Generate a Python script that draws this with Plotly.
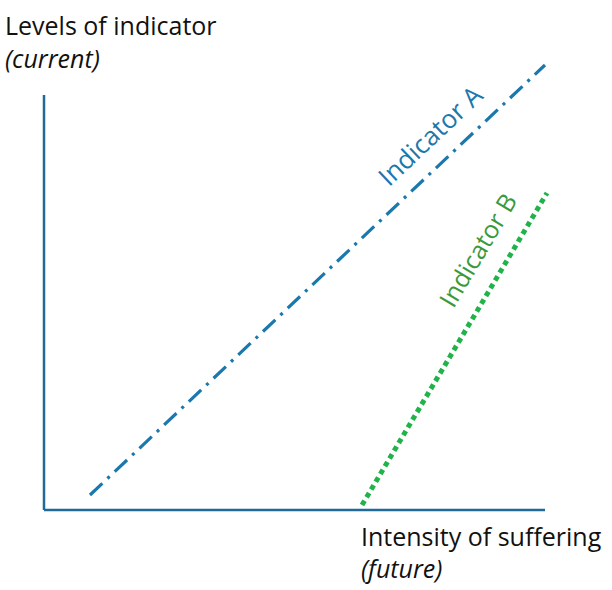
import plotly.graph_objects as go

# Chart coordinates: origin at the corner of the axes (units ~ pixels)
axis_x = [0, 501]
axis_y = [0, 415]
ind_a_x = [46, 501]
ind_a_y = [15, 445]
ind_b_x = [318, 503]
ind_b_y = [5, 317]

series_names = ["Indicator A", "Indicator B"]
y_title = ["Levels of indicator", "(current)"]
x_title = ["Intensity of suffering", "(future)"]

AX_COL = "#1f6a99"
A_COL = "#1a78ad"
B_COL = "#1fb34a"
B_TXT = "#3a9a3a"
FONT = "Open Sans"

fig = go.Figure()
# axes drawn as lines
fig.add_trace(go.Scatter(x=[axis_x[0], axis_x[0]], y=[axis_y[0], axis_y[1]], mode="lines",
                         line=dict(color=AX_COL, width=2.5), hoverinfo="skip", showlegend=False))
fig.add_trace(go.Scatter(x=[axis_x[0], axis_x[1]], y=[axis_y[0], axis_y[0]], mode="lines",
                         line=dict(color=AX_COL, width=2.5), hoverinfo="skip", showlegend=False))
fig.add_trace(go.Scatter(x=ind_a_x, y=ind_a_y, mode="lines", name=series_names[0],
                         line=dict(color=A_COL, width=3.2, dash="17px,7px,3px,7px"), showlegend=False))
fig.add_trace(go.Scatter(x=ind_b_x, y=ind_b_y, mode="lines", name=series_names[1],
                         line=dict(color=B_COL, width=5, dash="5px,4px"), showlegend=False))

fig.add_annotation(x=386, y=375, xref="x", yref="y", text=series_names[0], showarrow=False,
                   textangle=-43.4, font=dict(family=FONT, size=26, color=A_COL))
fig.add_annotation(x=433, y=260, xref="x", yref="y", text=series_names[1], showarrow=False,
                   textangle=-59.3, font=dict(family=FONT, size=25, color=B_TXT))

fig.add_annotation(x=3/612, y=1-25/590, xref="paper", yref="paper", text=y_title[0],
                   showarrow=False, xanchor="left", yanchor="middle",
                   font=dict(family=FONT, size=25, color="#111111"))
fig.add_annotation(x=3/612, y=1-58/590, xref="paper", yref="paper", text="<i>" + y_title[1] + "</i>",
                   showarrow=False, xanchor="left", yanchor="middle",
                   font=dict(family=FONT, size=25, color="#111111"))
fig.add_annotation(x=359/612, y=1-536/590, xref="paper", yref="paper", text=x_title[0],
                   showarrow=False, xanchor="left", yanchor="middle",
                   font=dict(family=FONT, size=25, color="#111111"))
fig.add_annotation(x=359/612, y=1-568/590, xref="paper", yref="paper", text="<i>" + x_title[1] + "</i>",
                   showarrow=False, xanchor="left", yanchor="middle",
                   font=dict(family=FONT, size=25, color="#111111"))

fig.update_layout(
    width=612, height=590,
    margin=dict(l=0, r=0, t=0, b=0),
    paper_bgcolor="white", plot_bgcolor="white",
    xaxis=dict(range=[-44, 568], visible=False, fixedrange=True),
    yaxis=dict(range=[-80, 510], visible=False, fixedrange=True),
)
fig.write_html("out.html")
